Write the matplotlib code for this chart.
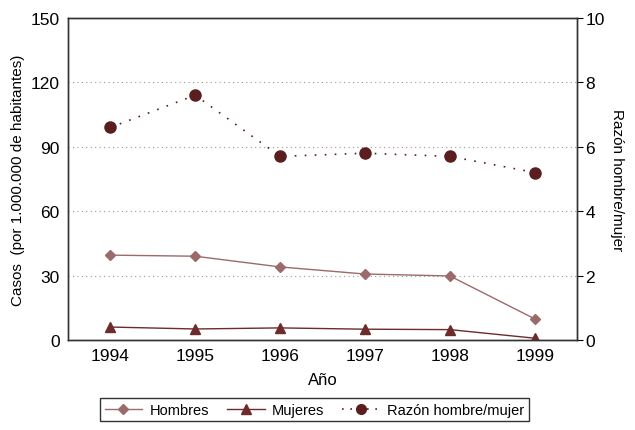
import matplotlib
matplotlib.use('Agg')
import matplotlib.pyplot as plt
from matplotlib.lines import Line2D

plt.rcParams['font.family'] = ['Liberation Sans', 'DejaVu Sans']

# datos
anios = [1994, 1995, 1996, 1997, 1998, 1999]
hombres = [39.5, 39.0, 34.0, 30.7, 29.8, 9.8]
mujeres = [6.0, 5.1, 5.6, 5.0, 4.8, 0.8]
razon = [6.6, 7.6, 5.7, 5.8, 5.7, 5.2]

c_hom = '#9b6b6b'
c_muj = '#6e2b2b'
c_raz = '#5a1e1e'

fig = plt.figure(figsize=(6.35, 4.31), dpi=100)
ax = fig.add_axes([0.107, 0.209, 0.802, 0.747])

ax.plot(anios, hombres, '-', color=c_hom, lw=1.0, marker='D', ms=5,
        mfc=c_hom, mec=c_hom, zorder=3)
ax.plot(anios, mujeres, '-', color=c_muj, lw=1.0, marker='^', ms=7,
        mfc=c_muj, mec=c_muj, zorder=3)

ax.set_xlim(1993.5, 1999.5)
ax.set_ylim(0, 150)
ax.set_yticks([0, 30, 60, 90, 120, 150])
ax.set_xticks(anios)
ax.tick_params(axis='both', labelsize=12.5, length=0, pad=6)
for y in [30, 60, 90, 120]:
    ax.axhline(y, color='#999999', ls=(0, (1, 3)), lw=0.8, zorder=1)
ax.set_xlabel('Año', fontsize=12, labelpad=6)
ax.set_ylabel('Casos  (por 1.000.000 de habitantes)', fontsize=11, labelpad=4)

ax2 = ax.twinx()
ax2.plot(anios, razon, color=c_raz, ls=(0, (1, 5)), lw=1.2, marker='o',
         ms=8, mfc=c_raz, mec=c_raz, zorder=3)
ax2.set_ylim(0, 10)
ax2.set_yticks([0, 2, 4, 6, 8, 10])
ax2.tick_params(axis='y', labelsize=12.5, length=4, direction='out', pad=2)
ax2.set_ylabel('Razón hombre/mujer', fontsize=11, rotation=270, labelpad=14)

for a in (ax, ax2):
    for s in a.spines.values():
        s.set_color('#333333')
        s.set_linewidth(1.0)

handles = [
    Line2D([], [], color=c_hom, lw=1.0, marker='D', ms=5, mfc=c_hom, mec=c_hom),
    Line2D([], [], color=c_muj, lw=1.0, marker='^', ms=7, mfc=c_muj, mec=c_muj),
    Line2D([], [], color=c_raz, ls=(0, (1, 4)), lw=1.2, marker='o', ms=7,
           mfc=c_raz, mec=c_raz),
]
leg = fig.legend(handles, ['Hombres', 'Mujeres', 'Razón hombre/mujer'],
                 loc='center', bbox_to_anchor=(0.495, 0.047), ncol=3,
                 fontsize=10.5, frameon=True, fancybox=False, handlelength=2.6,
                 columnspacing=1.2, handletextpad=0.5, borderpad=0.3)
leg.get_frame().set_edgecolor('black')
leg.get_frame().set_linewidth(1.0)

fig.savefig('out.png', dpi=100)
